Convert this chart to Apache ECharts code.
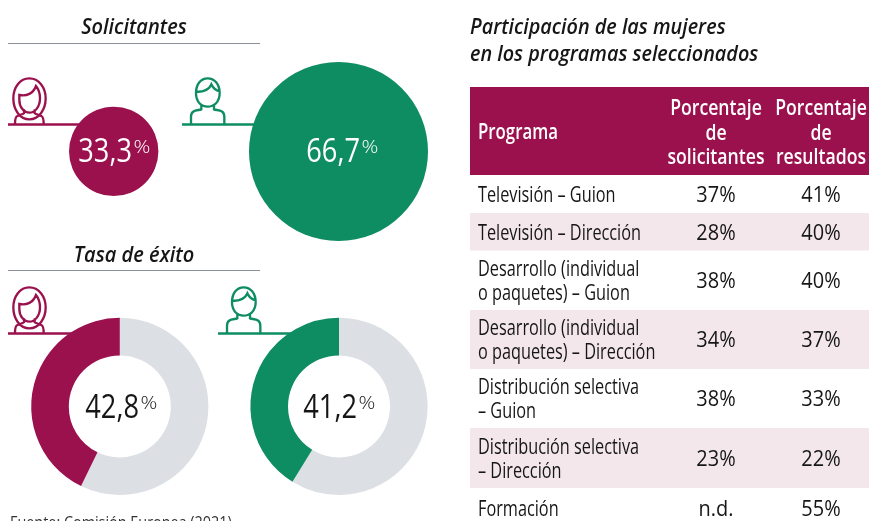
<!DOCTYPE html>
<html><head><meta charset="utf-8">
<style>html,body{margin:0;padding:0;background:#fff;overflow:hidden}#c{width:869px;height:521px}</style>
<script src="https://cdn.jsdelivr.net/npm/echarts@6/dist/echarts.min.js"></script>
</head><body><div id="c"></div>
<script>
const applicantLabels = ['Mujeres', 'Hombres'];
const applicantShares = [33.3, 66.7];
const successRates = [42.8, 41.2];
const tableHeaders = [['Programa'], ['Porcentaje', 'de', 'solicitantes'], ['Porcentaje', 'de', 'resultados']];
const programs = [
  ['Televisión – Guion'], ['Televisión – Dirección'],
  ['Desarrollo (individual', 'o paquetes) – Guion'], ['Desarrollo (individual', 'o paquetes) – Dirección'],
  ['Distribución selectiva', '– Guion'], ['Distribución selectiva', '– Dirección'], ['Formación']
];
const applicantPct = ['37%', '28%', '38%', '34%', '38%', '23%', 'n.d.'];
const resultPct = ['41%', '40%', '40%', '37%', '33%', '22%', '55%'];

const MAG = '#9B114E', GRN = '#0E8C62', GREY = '#DCDFE4', ROW = '#F3E7EC', INK = '#161616';
const FONT = '"Open Sans"';
const chart = echarts.init(document.getElementById('c'), null, {renderer: 'canvas'});
const g = [];
function txt(s, x, y, o) {
  o = o || {};
  g.push({type: 'text', x, y, scaleX: o.sx || 0.86, z: 20, silent: true, style: {
    text: s, fill: o.fill || INK, fontFamily: FONT, fontSize: o.size || 19,
    fontStyle: o.italic ? 'italic' : 'normal', fontWeight: o.weight || 400,
    textAlign: o.align || 'left', textVerticalAlign: 'middle', textBaseline: 'middle'
  }});
}
function rect(x, y, w, h, fill) { g.push({type: 'rect', z: 1, silent: true, shape: {x, y, width: w, height: h}, style: {fill}}); }
function pct(v, cx, cy, rightOff, fill) {
  const s = v.toFixed(1).replace('.', ',');
  txt(s, cx + rightOff, cy + 2, {size: 32, sx: 0.85, fill, align: 'right'});
  txt('%', cx + rightOff + 1.5, cy - 3.5, {size: 19, sx: 1.1, fill, weight: 300});
}
const woman = 'M88 235C60 235 40 262 40 295C40 330 60 358 88 358C116 358 137 330 137 295C137 262 116 235 88 235Z' +
  'M58 285C80 290 100 280 108 258C116 268 120 280 120 295C120 322 104 338 88 338C72 338 58 322 58 300Z' +
  'M72 328V340C72 342 60 345 52 348C47 350 45 354 45 372M104 328V340C104 342 116 345 124 348C129 350 131 354 131 372';
const man = 'M623 235C603 235 588 252 588 280C588 306 604 320 623 320C642 320 659 306 659 280C659 252 643 235 623 235Z' +
  'M589 275C610 277 628 268 634 253C640 266 648 272 659 274' +
  'M604 316V328C594 332 573 328 573 350V372M642 316V328C652 332 673 328 673 350V372';
echarts.graphic.registerShape('womanIcon', echarts.graphic.extendPath(woman, {}));
echarts.graphic.registerShape('manIcon', echarts.graphic.extendPath(man, {}));
function icon(t, ox, oy, color) {
  g.push({type: t, x: ox, y: oy, scaleX: 1/3, scaleY: 1/3, z: 3, silent: true,
    style: {fill: null, stroke: color, lineWidth: 7}});
}
function hline(x1, x2, y, color, w) {
  g.push({type: 'line', z: 2, silent: true, shape: {x1, y1: y, x2, y2: y}, style: {stroke: color, lineWidth: w}});
}

// Left column
txt('Solicitantes', 134, 28, {size: 22, italic: true, weight: 600, sx: 0.91, align: 'center'});
hline(8, 260, 43.5, '#8A8F99', 1);
txt('Tasa de éxito', 134, 255.5, {size: 22, italic: true, weight: 600, sx: 0.91, align: 'center'});
hline(8, 260, 270.5, '#8A8F99', 1);
hline(8, 90, 124.5, MAG, 2.5); hline(182, 265, 124.5, GRN, 2.5);
hline(8, 80, 333.5, MAG, 2.5); hline(218, 295, 333.5, GRN, 2.5);
icon('womanIcon', 0, 0, MAG); icon('manIcon', 0, 0, GRN);
icon('womanIcon', 0, 209, MAG); icon('manIcon', 36, 209, GRN);
pct(applicantShares[0], 114, 151, 18, '#fff');
pct(applicantShares[1], 338.5, 151, 21.5, '#fff');
pct(successRates[0], 119.5, 407, 19.5, INK);
pct(successRates[1], 338.5, 407, 18.5, INK);
txt('Fuente: Comisión Europea (2021)', 10, 523, {size: 16, sx: 0.9, fill: '#333'});

// Right column
txt('Participación de las mujeres', 470, 28, {size: 22, italic: true, weight: 600, sx: 0.9});
txt('en los programas seleccionados', 470, 55, {size: 22, italic: true, weight: 600, sx: 0.9});
rect(470, 87, 399, 88, MAG);
txt(tableHeaders[0][0], 478, 133.5, {size: 21, weight: 600, fill: '#fff', sx: 0.8});
[716, 821].forEach((cx, c) => tableHeaders[c + 1].forEach((t, i) =>
  txt(t, cx, 109.5 + i * 24.5, {size: 21, weight: 600, fill: '#fff', sx: 0.84, align: 'center'})));
const rowEdges = [175, 213, 250.5, 310, 369, 428, 488, 525];
programs.forEach((lines, r) => {
  const top = rowEdges[r], bot = rowEdges[r + 1], mid = (r === 6 ? 508 : (top + bot) / 2) + 2;
  if (r % 2 === 1) rect(470, top, 399, bot - top, ROW);
  lines.forEach((t, i) => txt(t, 478, mid + (i - (lines.length - 1) / 2) * 24, {size: 21, sx: 0.775}));
  txt(applicantPct[r], 716, mid, {size: 21, sx: 0.95, align: 'center'});
  txt(resultPct[r], 821, mid, {size: 21, sx: 0.95, align: 'center'});
});

const KR = 89.5 / applicantShares[1];
function pie(center, radius, data) {
  return {type: 'pie', center, radius, z: 5, silent: true, animation: false, startAngle: 90, clockwise: true,
    label: {show: false}, labelLine: {show: false}, emphasis: {disabled: true}, data};
}
chart.setOption({
  animation: false,
  graphic: {elements: g},
  series: [
    pie([113.7, 151.4], [0, applicantShares[0] * KR], [{name: applicantLabels[0], value: applicantShares[0], itemStyle: {color: MAG}}]),
    pie([338.5, 151.5], [0, applicantShares[1] * KR], [{name: applicantLabels[1], value: applicantShares[1], itemStyle: {color: GRN}}]),
    pie([119.8, 406.4], [51, 88.6], [{value: 100 - successRates[0], itemStyle: {color: GREY}}, {name: applicantLabels[0], value: successRates[0], itemStyle: {color: MAG}}]),
    pie([339, 406.4], [51, 88.6], [{value: 100 - successRates[1], itemStyle: {color: GREY}}, {name: applicantLabels[1], value: successRates[1], itemStyle: {color: GRN}}])
  ]
});
</script></body></html>
